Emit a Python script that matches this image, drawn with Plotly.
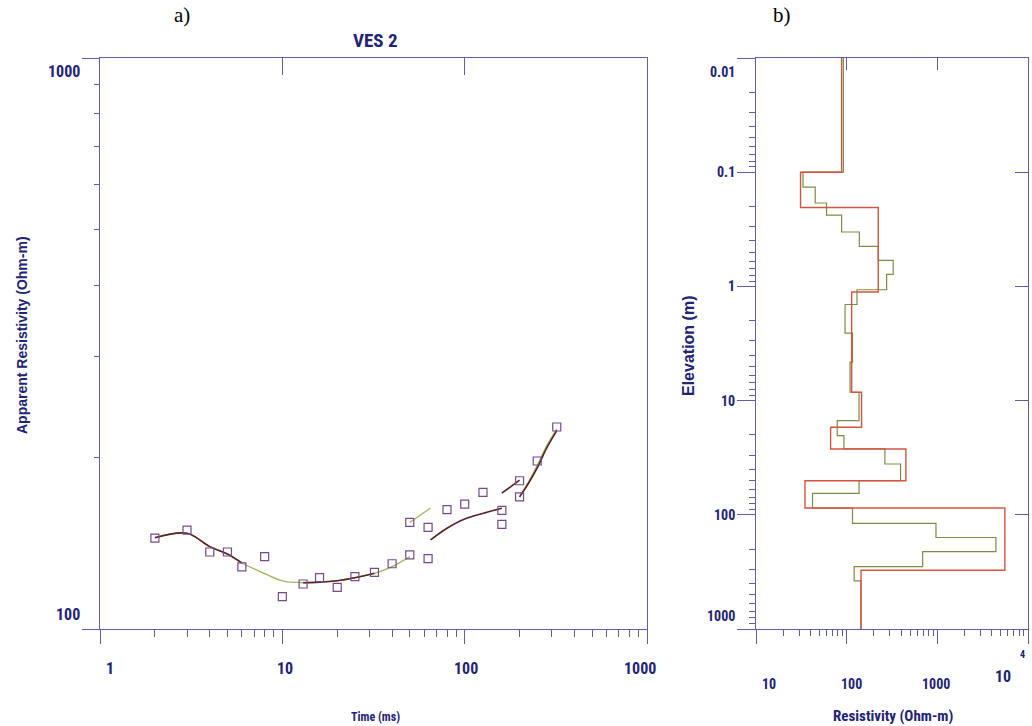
import math
import plotly.graph_objects as go

# ---------------- data ----------------
# a) observed apparent resistivity (TEM sounding VES 2)
time_ms = [2, 3, 4, 5, 6, 8, 10, 13, 16, 20, 25, 32, 40, 50, 50, 63, 63, 80, 100, 126,
           160, 160, 200, 200, 250, 320]
app_res = [144.3, 149.0, 136.4, 136.4, 128.5, 133.9, 113.9, 119.9, 123.0, 118.3, 123.5,
           125.7, 130.1, 134.8, 153.7, 150.7, 132.8, 161.8, 165.4, 173.5, 161.4, 152.5,
           181.8, 170.4, 196.9, 225.8]

# a) model response curves (segments separated by None)
fit_green_t = [2, 3, 4, 5, 6, 7.9, 10, 13, 16, 20, 25, 32, 40, 50, None,
               50, 65, None,
               200, 224, 250, 282, 320]
fit_green_r = [144.5, 147.1, 139.4, 135.3, 130.5, 125.3, 121.4, 120.5, 120.8, 121.5, 123.0,
               125.2, 128.6, 133.9, None,
               153.7, 162.9, None,
               170.4, 181.1, 193.5, 209.5, 224.0]
fit_dark_t = [2, 3, 4, 5, 6, None,
              13, 16, 20, 25, 32, None,
              65, 80, 100, 127, 160, None,
              160, 200, None,
              200, 224, 250, 282, 320]
fit_dark_r = [144.5, 147.1, 139.4, 135.3, 130.5, None,
              120.5, 120.8, 121.5, 123.0, 125.2, None,
              143.2, 150.1, 155.8, 159.5, 162.7, None,
              172.9, 182.3, None,
              170.4, 180.0, 191.5, 207.5, 222.5]

# b) layered models: resistivity per layer and layer boundaries (m)
red_res = [88, 31, 223, 113.5, 146, 66.5, 450, 34.7, 5557, 144]
red_bnd = [0.01, 0.1, 0.204, 1.12, 8.45, 17.1, 26.5, 50.3, 87.3, 306, 1000]
green_res = [92, 33, 45, 60, 88, 138, 223, 326, 276, 130, 96, 116, 109, 137, 78.7, 93.3,
             264, 393, 137, 42, 116, 966, 4426, 689, 121, 144]
green_bnd = [0.01, 0.1, 0.135, 0.186, 0.238, 0.334, 0.446, 0.591, 0.785, 1.07, 1.44, 2.57,
             4.61, 8.45, 15, 20.3, 26.5, 35.9, 50.3, 65, 87.3, 119, 158, 210, 284, 379, 1000]

# tick labels
a_x_labels = [1, 10, 100, 1000]
a_y_labels = [100, 1000]
b_y_labels = [0.01, 0.1, 1, 10, 100, 1000]
b_x_labels = [10, 100, 1000]

# ---------------- styling ----------------
AX = "rgb(95,95,160)"
LBL = "rgb(35,35,115)"
NARROW = "Liberation Sans Narrow, Roboto Condensed, Arial Narrow, Liberation Sans, sans-serif"
SERIF = "Liberation Serif, DejaVu Serif, serif"
WIDE = "Liberation Sans, Arial, sans-serif"


def steps(res, bnd):
    xs, ys = [], []
    for i, r in enumerate(res):
        xs += [r, r]
        ys += [bnd[i], bnd[i + 1]]
    return xs, ys


def decade_minor(lo_exp, hi_exp):
    vals = []
    for e in range(lo_exp, hi_exp):
        for m in range(2, 10):
            vals.append(m * 10 ** e)
    return vals


fig = go.Figure()

# ---- panel a ----
fig.add_trace(go.Scatter(x=fit_green_t, y=fit_green_r, mode="lines", connectgaps=False,
                         line=dict(color="rgb(165,180,95)", width=1.3, shape="spline",
                                   smoothing=1.0),
                         xaxis="x", yaxis="y", showlegend=False))
fig.add_trace(go.Scatter(x=fit_dark_t, y=fit_dark_r, mode="lines", connectgaps=False,
                         line=dict(color="rgb(85,35,35)", width=1.6, shape="spline",
                                   smoothing=1.0),
                         xaxis="x", yaxis="y", showlegend=False))
fig.add_trace(go.Scatter(x=time_ms, y=app_res, mode="markers",
                         marker=dict(symbol="square-open", size=8, color="rgb(115,75,140)",
                                     line=dict(width=1.2)),
                         xaxis="x", yaxis="y", showlegend=False))

# ---- panel b ----
rx, ry = steps(red_res, red_bnd)
gx, gy = steps(green_res, green_bnd)
fig.add_trace(go.Scatter(x=gx, y=gy, mode="lines",
                         line=dict(color="rgb(125,140,70)", width=1.2),
                         xaxis="x2", yaxis="y2", showlegend=False))
fig.add_trace(go.Scatter(x=rx, y=ry, mode="lines",
                         line=dict(color="rgb(210,85,65)", width=1.4),
                         xaxis="x2", yaxis="y2", showlegend=False))

# empty traces so that the inner-tick overlay axes are drawn
for xa, ya in [("x3", "y"), ("x4", "y2"), ("x2", "y4")]:
    fig.add_trace(go.Scatter(x=[], y=[], mode="lines", xaxis=xa, yaxis=ya,
                             showlegend=False, hoverinfo="skip"))

XA = [100 / 1032, 647 / 1032]
XB = [756 / 1032, 1028 / 1032]
YD = [1 - 629 / 726, 1 - 58 / 726]

common = dict(type="log", showgrid=False, zeroline=False, showline=True, linecolor=AX,
              linewidth=1.3, tickcolor=AX, tickwidth=1.2, showticklabels=False,
              tickmode="array")

fig.update_layout(
    width=1032, height=726, margin=dict(l=0, r=0, t=0, b=0),
    paper_bgcolor="white", plot_bgcolor="white",
    xaxis=dict(common, domain=XA, range=[0, 3], anchor="y", mirror=True,
               ticks="outside", ticklen=14, tickvals=a_x_labels,
               minor=dict(ticks="outside", ticklen=7, tickcolor=AX, tickmode="array",
                          tickvals=decade_minor(0, 3))),
    yaxis=dict(common, domain=YD, range=[2, 3], anchor="x", mirror=True,
               ticks="outside", ticklen=17, tickvals=a_y_labels,
               minor=dict(ticks="outside", ticklen=5, tickcolor=AX, tickmode="array",
                          tickvals=decade_minor(2, 3))),
    xaxis3=dict(common, overlaying="x", anchor="y", side="top", range=[0, 3],
                showline=False, ticks="inside", ticklen=17, tickvals=[10, 100]),
    xaxis2=dict(common, domain=XB, range=[1, 4], anchor="y2", mirror=True,
                ticks="outside", ticklen=14, tickvals=[10, 100, 1000, 10000],
                minor=dict(ticks="outside", ticklen=6, tickcolor=AX, tickmode="array",
                           tickvals=decade_minor(1, 4))),
    yaxis2=dict(common, domain=YD, range=[3, -2], anchor="x2", mirror=True,
                ticks="outside", ticklen=18, tickvals=b_y_labels,
                minor=dict(ticks="outside", ticklen=6, tickcolor=AX, tickmode="array",
                           tickvals=decade_minor(-2, 3))),
    xaxis4=dict(common, overlaying="x2", anchor="y2", side="top", range=[1, 4],
                showline=False, ticks="inside", ticklen=12, tickvals=[100, 1000]),
    yaxis4=dict(common, overlaying="y2", anchor="x2", side="right", range=[3, -2],
                showline=False, ticks="inside", ticklen=13, tickvals=[0.1, 1, 10, 100]),
)

ann = []
lab_font_a = dict(family=NARROW, size=16, color=LBL, weight="bold")
lab_font_b = dict(family=NARROW, size=14, color=LBL, weight="bold")

# panel a tick labels
a_x_shift = {1: 10, 10: 3, 100: 1, 1000: -7}
for v in a_x_labels:
    ann.append(dict(text=str(v), xref="x", x=math.log10(v), yref="y domain", y=0,
                    xanchor="center", yanchor="middle", xshift=a_x_shift[v], yshift=-39,
                    showarrow=False, font=lab_font_a))
a_y_shift = {100: 15, 1000: -13}
for v in a_y_labels:
    ann.append(dict(text=str(v), xref="x domain", x=0, yref="y", y=math.log10(v),
                    xanchor="right", yanchor="middle", xshift=-18, yshift=a_y_shift[v],
                    showarrow=False, font=lab_font_a))

# panel b tick labels
b_y_shift = {0.01: -14, 1000: 13}
for v in b_y_labels:
    ann.append(dict(text=str(v), xref="x2 domain", x=0, yref="y2", y=math.log10(v),
                    xanchor="right", yanchor="middle", xshift=-19,
                    yshift=b_y_shift.get(v, 0), showarrow=False, font=lab_font_b))
b_x_shift = {10: 13, 100: 5, 1000: -1}
for v in b_x_labels:
    ann.append(dict(text=str(v), xref="x2", x=math.log10(v), yref="y2 domain", y=0,
                    xanchor="center", yanchor="middle", xshift=b_x_shift[v], yshift=-55,
                    showarrow=False, font=lab_font_b))
ann.append(dict(text="10", xref="x2", x=4, yref="y2 domain", y=0, xanchor="center",
                yanchor="middle", xshift=-25, yshift=-47, showarrow=False,
                font=dict(family=NARROW, size=16, color=LBL, weight="bold")))
ann.append(dict(text="4", xref="x2", x=4, yref="y2 domain", y=0, xanchor="center",
                yanchor="middle", xshift=-6, yshift=-25, showarrow=False,
                font=dict(family=NARROW, size=10, color=LBL, weight="bold")))


# titles
def ptxt(text, px, py, font, angle=0):
    return dict(text=text, xref="paper", yref="paper", x=px / 1032, y=1 - py / 726,
                xanchor="center", yanchor="middle", textangle=angle, showarrow=False,
                font=font)


ann += [
    ptxt("VES 2", 375, 41, dict(family=NARROW, size=19, color=LBL, weight="bold")),
    ptxt("a)", 182, 15, dict(family=SERIF, size=21, color="black")),
    ptxt("b)", 782, 15, dict(family=SERIF, size=21, color="black")),
    ptxt("Apparent Resistivity (Ohm-m)", 22, 335,
         dict(family=WIDE, size=14, color=LBL, weight="bold"), -90),
    ptxt("Time (ms)", 375, 717, dict(family=NARROW, size=12, color=LBL, weight="bold")),
    ptxt("Elevation (m)", 688, 346, dict(family=WIDE, size=16, color=LBL, weight="bold"),
         -90),
    ptxt("Resistivity (Ohm-m)", 893, 716,
         dict(family=NARROW, size=15, color=LBL, weight="bold")),
]
fig.update_layout(annotations=ann)

fig.write_html("out.html",
               config={"displayModeBar": False},
               post_script="document.body.style.margin='0';"
                           "document.body.style.overflow='hidden';")
